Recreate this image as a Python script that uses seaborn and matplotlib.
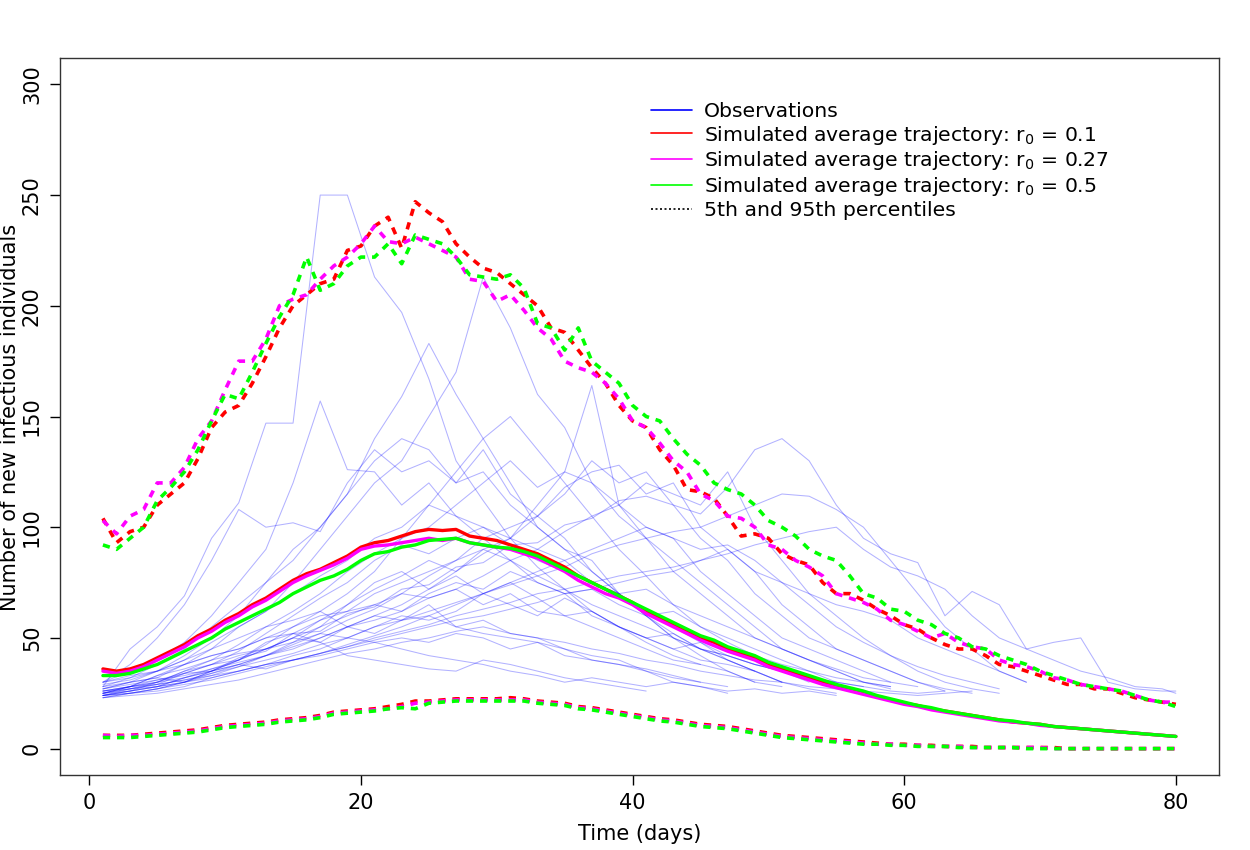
import numpy as np
import pandas as pd
import matplotlib
matplotlib.use("Agg")
import matplotlib.pyplot as plt
import seaborn as sns
from matplotlib.lines import Line2D

# ---- simulated averages (daily, days 1..80) ----
days = list(range(1, 81))

mean_r010 = [36, 35, 36, 38, 41, 44, 47, 51, 54, 58,
             61, 65, 68, 72, 76, 79, 81, 84, 87, 91,
             93, 94, 96, 98, 99, 98.5, 99, 96, 95, 94,
             92, 90, 88, 85, 82, 78, 75, 72, 69, 66,
             62, 59, 56, 53, 50, 48, 45, 43, 41, 38,
             36, 34, 32, 30, 28, 26.5, 25, 23.5, 22, 20.5,
             19.5, 18, 17, 16, 15, 14, 13, 12, 11.5, 11,
             10, 9.5, 9, 8.5, 8, 7.5, 7, 6.5, 6, 5.5]
mean_r027 = [35, 34, 35, 37, 40, 43, 46, 50, 53, 57,
             60, 64, 67, 71, 75, 78, 80.5, 83, 86, 90,
             91.5, 92, 93, 94, 95, 94, 95, 93, 92, 91,
             90, 88, 86, 83, 80, 76, 73, 70, 68, 65,
             61, 58, 55, 52, 49, 46.5, 44, 42, 40, 37,
             35, 33, 31, 29, 27.5, 26, 24.5, 23, 21.5, 20,
             19, 17.5, 16.5, 15.5, 14.5, 13.5, 12.5, 12, 11.5, 10.5,
             10, 9.5, 9, 8.5, 8, 7.5, 7, 6.5, 6, 5.5]
mean_r050 = [33, 33, 34, 36, 38, 41, 44, 47, 50, 54,
             57, 60, 63, 66, 70, 73, 76, 78, 81, 85,
             88, 89, 91, 92, 94, 94.5, 95, 93, 92, 91,
             90.5, 89, 87, 84, 81, 78, 75, 72, 69, 66,
             63, 60, 57, 54, 51, 49, 46, 44, 42, 39,
             37, 35, 33, 31, 29, 27.5, 26, 24, 22.5, 21,
             19.5, 18.5, 17, 16, 15, 14, 13, 12.5, 11.5, 11,
             10, 9.5, 9, 8.5, 8, 7.5, 7, 6.5, 6, 5.5]

# ---- 95th percentiles ----
hi_r010 = [104, 93, 98, 100, 110, 115, 120, 131, 145, 152,
           155, 165, 177, 190, 200, 205, 210, 212, 225, 227,
           236, 240, 226, 247, 242, 238, 228, 222, 217, 215,
           210, 205, 200, 190, 188, 180, 172, 165, 155, 148,
           145, 135, 128, 117, 116, 113, 105, 96, 97, 95,
           88, 85, 83, 75, 70, 70, 67, 63, 60, 56,
           54, 50, 47, 45, 45, 42, 38, 37, 35, 33,
           31, 29, 29, 27, 27, 25, 23, 22, 21, 20]
hi_r027 = [103, 97, 105, 108, 120, 120, 127, 140, 148, 162,
           175, 175, 185, 200, 203, 205, 212, 218, 222, 228,
           236, 229, 228, 231, 228, 225, 222, 212, 211, 202,
           205, 198, 190, 185, 175, 172, 170, 165, 158, 148,
           145, 138, 130, 125, 115, 112, 105, 104, 100, 92,
           90, 85, 82, 78, 70, 68, 66, 63, 58, 56,
           53, 50, 52, 48, 46, 45, 40, 38, 37, 35,
           32, 31, 29, 28, 27, 26, 24, 22, 21, 21]
hi_r050 = [92, 90, 95, 100, 112, 118, 125, 135, 148, 160,
           158, 170, 183, 195, 205, 222, 207, 210, 218, 222,
           222, 228, 219, 232, 230, 228, 222, 214, 213, 212,
           214, 208, 192, 190, 180, 190, 175, 170, 165, 155,
           150, 148, 140, 133, 128, 120, 117, 115, 110, 103,
           100, 96, 90, 87, 85, 78, 70, 68, 63, 62,
           58, 56, 52, 50, 46, 45, 42, 40, 38, 35,
           33, 31, 29, 28, 27, 26, 24, 22, 21, 19]

# ---- 5th percentiles ----
lo_r010 = [6, 6, 6, 6.5, 7, 7.5, 8, 8.5, 9.5, 10.5,
           11, 11.5, 12, 13, 13.5, 14, 15, 16.5, 17, 17.5,
           18, 19, 20, 21.5, 21.5, 22, 22.5, 22.5, 22.5, 22.5,
           23, 22.5, 21.5, 21, 20.5, 19, 18.5, 17.5, 16.5, 15.5,
           14.5, 13.5, 13, 12, 11, 10.5, 10, 9, 8, 7,
           6, 5.5, 5, 4.5, 4, 3.5, 3, 2.5, 2, 2,
           1.5, 1.5, 1, 1, 1, 0.5, 0.5, 0.5, 0.5, 0.5,
           0.5, 0, 0, 0, 0, 0, 0, 0, 0, 0]
lo_r027 = [6, 5.5, 6, 6, 6.5, 7, 7.5, 8, 9, 10,
           10.5, 11, 11.5, 12.5, 13, 13.5, 14.5, 16, 16.5, 17,
           17.5, 18, 19, 20.5, 21, 21.5, 22, 22, 22, 22,
           22, 22, 21, 20.5, 20, 18.5, 18, 17, 16, 15,
           14, 13, 12.5, 11.5, 10.5, 10, 9.5, 8.5, 7.5, 6.5,
           5.5, 5, 4.5, 4, 3.5, 3, 2.5, 2, 2, 1.5,
           1.5, 1, 1, 1, 0.5, 0.5, 0.5, 0.5, 0.5, 0.5,
           0, 0, 0, 0, 0, 0, 0, 0, 0, 0]
lo_r050 = [5, 5, 5, 5.5, 6, 6.5, 7, 7.5, 8.5, 9.5,
           10, 10.5, 11, 12, 12.5, 13, 14, 15.5, 16, 16.5,
           17, 18, 18.5, 18, 20.5, 21, 21.5, 21.5, 21.5, 21.5,
           21.5, 21.5, 20.5, 20, 19.5, 18, 17.5, 16.5, 15.5, 14.5,
           13.5, 12.5, 12, 11, 10, 9.5, 9, 8, 7, 6,
           5, 4.5, 4, 3.5, 3, 2.5, 2, 2, 1.5, 1.5,
           1, 1, 1, 0.5, 0.5, 0.5, 0.5, 0.5, 0, 0,
           0, 0, 0, 0, 0, 0, 0, 0, 0, 0]

# ---- observed epidemics, read every other day (days 1,3,...,79,80) ----
obs_days = list(range(1, 80, 2)) + [80]

obs_01 = [28, 45, 55, 69, 95, 111, 147, 147, 250, 250, 213, 197, 167, 130, 112, 95, 82, 72, 62, 55, 48, 42, 38]
obs_02 = [25, 28, 33, 38, 45, 55, 62, 75, 90, 105, 120, 130, 150, 170, 213, 190, 160, 145, 120, 110, 95, 80, 70, 60, 50, 45, 40, 35, 30, 27]
obs_03 = [27, 30, 35, 42, 50, 60, 75, 90, 100, 115, 140, 159, 183, 160, 140, 120, 100, 90, 80, 70, 60, 52, 45, 40, 35, 30]
obs_04 = [30, 35, 40, 48, 60, 75, 90, 120, 157, 126, 125, 110, 120, 105, 95, 85, 75, 70, 60, 55, 50, 45, 40, 38, 35, 30]
obs_05 = [24, 26, 28, 32, 35, 40, 45, 50, 58, 62, 70, 75, 80, 85, 90, 95, 110, 125, 164, 110, 100, 95, 80, 70, 60, 50, 45, 40, 35, 30]
obs_06 = [25, 28, 29, 34, 35, 41, 44, 52, 53, 61, 64, 72, 74, 82, 84, 92, 93, 101, 104, 112,
          114, 110, 106, 118, 135, 140, 130, 110, 95, 88, 84, 60, 71, 65, 45, 48, 50, 30, 27, 26, 26]
obs_07 = [28, 32, 38, 45, 55, 65, 75, 85, 100, 115, 130, 140, 135, 120, 125, 110, 100, 90, 85, 70, 60, 50, 42, 35, 30]
obs_08 = [24, 27, 30, 35, 40, 47, 55, 62, 70, 80, 88, 95, 100, 110, 120, 130, 118, 125, 120, 105, 95, 85, 75, 65, 55, 45, 40, 35, 30, 28]
obs_09 = [23, 25, 27, 30, 33, 37, 42, 47, 52, 58, 63, 70, 78, 85, 95, 100, 105, 118, 125, 128, 115, 120, 100, 90, 80, 65, 55, 45, 40, 35, 30, 26]
obs_10 = [26, 28, 30, 32, 35, 38, 42, 45, 50, 55, 58, 62, 68, 72, 78, 85, 90, 98, 105, 110, 120, 115, 110, 125, 100, 85, 70, 60, 50, 42, 35, 30, 27, 25]
obs_11 = [25, 27, 29, 31, 34, 37, 40, 43, 47, 50, 55, 58, 62, 66, 70, 74, 78, 82, 88, 92, 95, 98, 100, 105, 110, 115, 114, 108, 100, 85, 70, 55, 45, 35, 30]
obs_12 = [27, 30, 32, 38, 42, 45, 50, 55, 60, 62, 65, 70, 68, 72, 65, 70, 62, 60, 55, 50, 45, 40, 38, 35, 30, 28]
obs_13 = [24, 26, 30, 35, 38, 40, 48, 52, 58, 65, 75, 80, 72, 78, 70, 75, 68, 60, 62, 55, 50, 45, 48, 40, 35, 30, 27, 25]
obs_14 = [30, 33, 35, 40, 45, 50, 55, 58, 62, 55, 60, 58, 65, 55, 52, 50, 48, 45, 40, 38, 35, 32, 30, 28]
obs_15 = [26, 28, 33, 36, 40, 43, 45, 50, 48, 55, 52, 58, 60, 55, 58, 52, 50, 45, 42, 40, 35, 30, 28, 25]
obs_16 = [23, 25, 26, 28, 32, 35, 38, 42, 45, 50, 55, 60, 58, 62, 70, 65, 60, 68, 62, 55, 50, 52, 45, 42, 38, 35, 32, 30, 28, 26, 25, 26]
obs_17 = [28, 30, 32, 30, 35, 38, 36, 40, 42, 45, 48, 50, 48, 52, 50, 45, 48, 42, 40, 38, 36, 33, 30]
obs_18 = [25, 27, 28, 32, 36, 40, 45, 50, 55, 60, 65, 62, 70, 75, 72, 80, 75, 70, 72, 65, 60, 62, 55, 50, 45, 40, 35, 30]
obs_19 = [30, 32, 35, 38, 42, 45, 50, 52, 48, 42, 40, 38, 36, 35, 40, 38, 35, 32, 30, 28, 26]
obs_20 = [24, 25, 27, 30, 34, 38, 42, 48, 55, 65, 72, 78, 85, 80, 90, 85, 78, 72, 65, 60, 55, 50, 45, 42, 38, 35, 32, 30, 28]
obs_21 = [26, 28, 31, 34, 38, 42, 45, 48, 52, 50, 48, 45, 42, 40, 38, 35, 33, 30, 32, 30, 28, 30, 28, 26, 27, 25, 26, 24]
obs_22 = [29, 31, 35, 40, 48, 55, 62, 70, 78, 85, 95, 100, 110, 105, 100, 95, 90, 85, 75, 70, 62, 55, 48, 42, 38, 35, 30]
obs_23 = [25, 28, 30, 34, 38, 44, 52, 60, 68, 75, 85, 92, 88, 95, 100, 92, 85, 80, 75, 70, 72, 65, 60, 55, 50, 45, 40, 36, 32, 30, 28]
obs_24 = [30, 38, 50, 65, 85, 108, 100, 102, 98, 120, 135, 125, 130, 120, 135, 115, 105, 95, 80, 70, 60, 50, 45, 40, 35]
obs_25 = [24, 26, 28, 30, 35, 40, 47, 55, 62, 70, 80, 95, 110, 125, 140, 150, 135, 120, 105, 90, 78, 65, 55, 48, 42, 38, 35, 32, 30, 28]
obs_26 = [27, 29, 31, 33, 36, 39, 42, 46, 50, 55, 60, 65, 72, 80, 88, 95, 105, 115, 130, 120, 125, 110, 95, 85, 70, 60, 50, 45, 40, 35, 30, 27, 25]
obs_27 = [23, 24, 25, 27, 29, 31, 34, 37, 40, 43, 45, 48, 50, 53, 55, 52, 50, 48, 45, 43, 40, 38, 35, 33, 31, 30, 28, 27, 26, 25, 24, 25, 26]
obs_28 = [25, 26, 28, 30, 32, 35, 38, 40, 43, 46, 50, 53, 56, 60, 63, 66, 70, 72, 75, 78,
          80, 82, 85, 88, 92, 95, 98, 100, 90, 82, 78, 72, 60, 50, 45, 40, 35, 32, 28, 27, 25]
obs_29 = [24, 25, 27, 29, 31, 34, 37, 40, 43, 47, 51, 55, 60, 65, 70, 75, 80, 85, 90, 95, 100, 95, 90, 92, 85, 75, 65, 55, 48, 42, 37, 33, 30, 27]
obs_30 = [26, 27, 29, 31, 33, 35, 38, 40, 43, 46, 49, 52, 55, 58, 60, 63, 66, 70, 72, 75, 78, 80, 85, 90, 80, 75, 70, 65, 62, 58, 50, 45, 40, 35, 30]

observations = [obs_01, obs_02, obs_03, obs_04, obs_05, obs_06, obs_07, obs_08, obs_09, obs_10,
                obs_11, obs_12, obs_13, obs_14, obs_15, obs_16, obs_17, obs_18, obs_19, obs_20,
                obs_21, obs_22, obs_23, obs_24, obs_25, obs_26, obs_27, obs_28, obs_29, obs_30]

rows = []
for k, vals in enumerate(observations):
    for d, v in zip(obs_days, vals):
        rows.append((k, d, v))
obs_df = pd.DataFrame(rows, columns=["epidemic", "day", "count"])

sns.set_theme(style="white")
plt.rcParams["font.family"] = ["DejaVu Sans"]
plt.rcParams["text.color"] = "black"
plt.rcParams["axes.labelcolor"] = "black"
plt.rcParams["xtick.color"] = "black"
plt.rcParams["ytick.color"] = "black"

fig = plt.figure(figsize=(12.5, 8.5), dpi=100)
ax = fig.add_axes([0.048, 0.088, 0.927, 0.844])

sns.lineplot(data=obs_df, x="day", y="count", units="epidemic", estimator=None,
             color="#0000FF", alpha=0.3, linewidth=0.75, sort=False, legend=False, ax=ax)

sim = [(mean_r010, hi_r010, lo_r010, "#FF0000"),
       (mean_r027, hi_r027, lo_r027, "#FF00FF"),
       (mean_r050, hi_r050, lo_r050, "#00FF00")]
for mean, hi, lo, col in sim:
    sns.lineplot(x=days, y=mean, color=col, linewidth=2.4, ax=ax)
for mean, hi, lo, col in sim:
    for q in (hi, lo):
        sns.lineplot(x=days, y=q, color=col, linewidth=2.6, ax=ax,
                     dashes=False).lines[-1].set_dashes([2, 1.9])

ax.set_xlim(-2.16, 83.16)
ax.set_ylim(-12, 312)
ax.set_xticks([0, 20, 40, 60, 80])
ax.set_yticks([0, 50, 100, 150, 200, 250, 300])
ax.tick_params(axis="both", direction="out", length=7, width=1, color="black",
               labelcolor="black", labelsize=15, pad=6, bottom=True, left=True)
for lab in ax.get_yticklabels():
    lab.set_rotation(90)
    lab.set_va("center")
for sp in ax.spines.values():
    sp.set_visible(True)
    sp.set_color("#333333")
    sp.set_linewidth(1)

ax.set_xlabel("Time (days)", fontsize=15, labelpad=8, color="black")
ax.set_ylabel("")
fig.text(10 / 1250, 1 - 417 / 850, "Number of new infectious individuals",
         rotation=90, ha="center", va="center", fontsize=15, color="black")

handles = [Line2D([], [], color="#0000FF", lw=1.2),
           Line2D([], [], color="#FF0000", lw=1.2),
           Line2D([], [], color="#FF00FF", lw=1.2),
           Line2D([], [], color="#00FF00", lw=1.2),
           Line2D([], [], color="black", lw=1.2, linestyle=(0, (1.2, 1.5)))]
labels = ["Observations",
          "Simulated average trajectory: r$_0$ = 0.1",
          "Simulated average trajectory: r$_0$ = 0.27",
          "Simulated average trajectory: r$_0$ = 0.5",
          "5th and 95th percentiles"]
leg = ax.legend(handles, labels, loc="upper left", bbox_to_anchor=(0.501, 0.953),
                frameon=False, fontsize=14.7, handlelength=2.0, handletextpad=0.62,
                labelspacing=0.14, borderpad=0)
for t in leg.get_texts():
    t.set_color("black")

fig.savefig("out.png", dpi=100)
